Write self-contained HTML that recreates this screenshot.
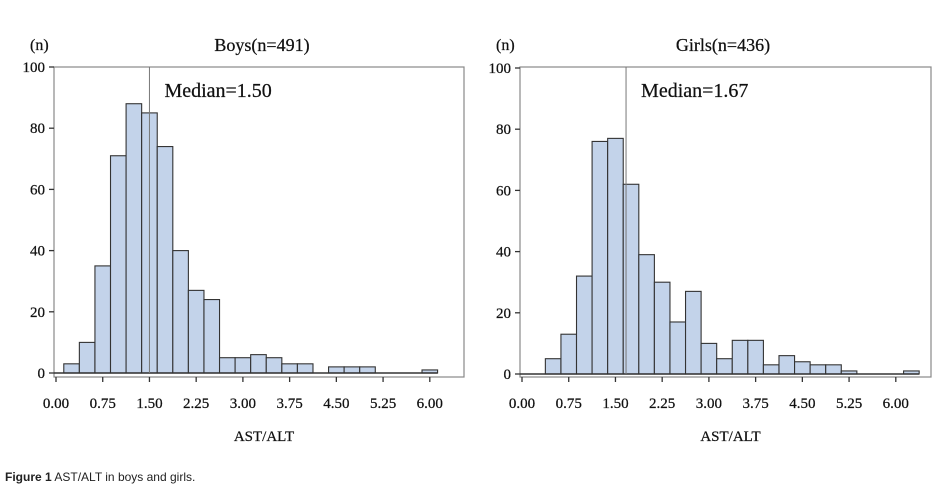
<!DOCTYPE html>
<html><head><meta charset="utf-8"><style>
html,body{margin:0;padding:0;background:#fff;width:949px;height:499px;overflow:hidden}
svg text{font-family:"Liberation Serif",serif;fill:#111;stroke:#111;stroke-width:0.25}
.cap{position:absolute;left:5px;top:470px;font-family:"Liberation Sans",sans-serif;font-size:12px;color:#222}
</style></head><body>
<svg id="chart" width="949" height="499"></svg>
<div class="cap"><b>Figure 1</b> AST/ALT in boys and girls.</div>
<script>
const binCenters = [0.25,0.5,0.75,1.0,1.25,1.5,1.75,2.0,2.25,2.5,2.75,3.0,3.25,3.5,3.75,4.0,4.25,4.5,4.75,5.0,5.25,5.5,5.75,6.0,6.25];
const boysCounts = [3,10,35,71,88,85,74,40,27,24,5,5,6,5,3,3,0,2,2,2,0,0,0,1,0];
const girlsCounts = [0,5,13,32,76,77,62,39,30,17,27,10,5,11,11,3,6,4,3,3,1,0,0,0,1];
const boysMedian = 1.50;
const girlsMedian = 1.67;
const xTicks = [0,0.75,1.5,2.25,3.0,3.75,4.5,5.25,6.0];
const yTicks = [0,20,40,60,80,100];
const binWidth = 0.25;

const svg = document.getElementById('chart');
const NS = 'http://www.w3.org/2000/svg';
function mk(tag, attrs, parent){
  const e = document.createElementNS(NS, tag);
  for (const k in attrs) e.setAttribute(k, attrs[k]);
  (parent||svg).appendChild(e);
  return e;
}

function panel(cfg){
  const g = mk('g', {});
  
  
  const xS = v => cfg.x0 + v * cfg.pxPerUnit;
  const yS = v => cfg.y0 - v * cfg.pxPerCount;
  const fr = mk('rect', {x:cfg.left, y:cfg.top, width:cfg.right-cfg.left, height:cfg.bottom-cfg.top, fill:'none', stroke:'#888', 'stroke-width':1.2}, g);
  
  
  let lastX = null;
  cfg.counts.forEach((c, i) => {
    const x1 = xS(binCenters[i] - binWidth/2), x2 = xS(binCenters[i] + binWidth/2);
    if (c > 0) lastX = x2;
    if (c <= 0) return;
    const r = mk('rect', {x:x1, y:yS(c), width:x2-x1, height:yS(0)-yS(c), fill:'#c3d3ea', stroke:'#333', 'stroke-width':1.1}, g);
    
    
  });
  const base = mk('line', {x1:cfg.left, x2:lastX, y1:yS(0), y2:yS(0), stroke:'#333', 'stroke-width':1.6}, g);
  
  
  const ml = mk('line', {x1:xS(cfg.median), x2:xS(cfg.median), y1:cfg.top, y2:yS(0), stroke:'#777', 'stroke-width':1}, g);
  
  
  const mt = mk('text', {x:xS(cfg.median)+15, y:cfg.top+30, 'font-size':20}, g);
  mt.textContent = 'Median=' + cfg.median.toFixed(2);
  
  
  yTicks.forEach(t => {
    mk('line', {x1:cfg.left-5, x2:cfg.left, y1:yS(t), y2:yS(t), stroke:'#333', 'stroke-width':1.3}, g);
    const tx = mk('text', {x:cfg.left-9, y:yS(t)+5, 'font-size':15, 'text-anchor':'end'}, g);
    tx.textContent = t;
    
    
  });
  xTicks.forEach(t => {
    mk('line', {x1:xS(t), x2:xS(t), y1:cfg.bottom, y2:cfg.bottom+5, stroke:'#333', 'stroke-width':1.3}, g);
    const tx = mk('text', {x:xS(t), y:cfg.bottom+31, 'font-size':15, 'text-anchor':'middle'}, g);
    tx.textContent = t.toFixed(2);
    
    
  });
  const xt = mk('text', {x:(cfg.left+cfg.right)/2+5, y:441, 'font-size':15, 'text-anchor':'middle'}, g);
  xt.textContent = 'AST/ALT';
  
  
  const yt = mk('text', {x:cfg.left-24, y:50, 'font-size':16}, g);
  yt.textContent = '(n)';
  
  
  const tt = mk('text', {x:cfg.titleX, y:51, 'font-size':18, 'text-anchor':'middle'}, g);
  tt.textContent = cfg.title;
  
  
}

panel({name:'boys', counts:boysCounts, median:boysMedian, title:'Boys(n=491)', titleX:262,
  left:54, right:464, top:67, bottom:377, x0:56, pxPerUnit:62.3, y0:373, pxPerCount:3.06});
panel({name:'girls', counts:girlsCounts, median:girlsMedian, title:'Girls(n=436)', titleX:723,
  left:520, right:931, top:67, bottom:377, x0:522, pxPerUnit:62.3, y0:374, pxPerCount:3.06});
</script>
</body></html>
